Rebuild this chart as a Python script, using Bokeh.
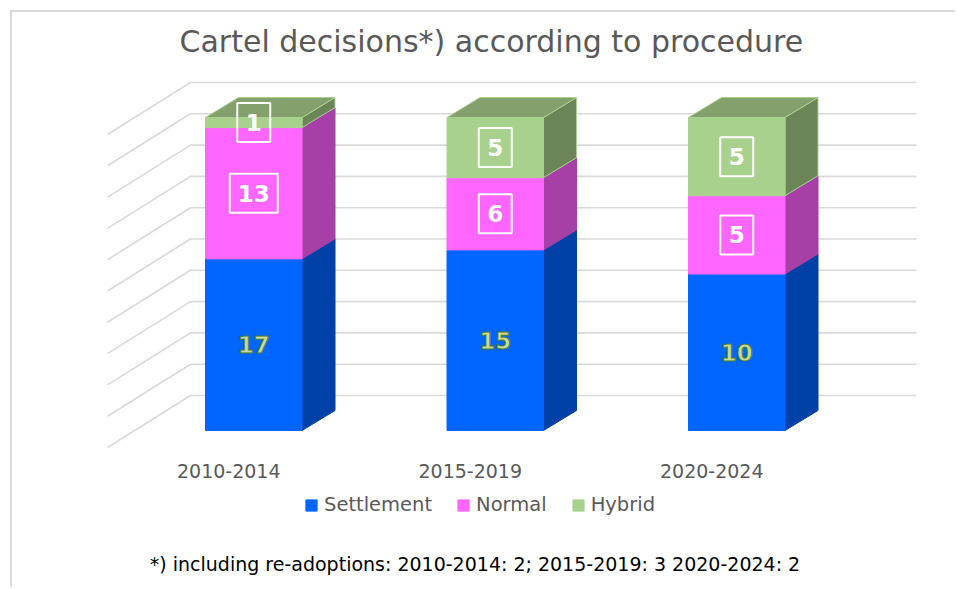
from bokeh.plotting import figure
from bokeh.layouts import column
from bokeh.embed import file_html
from bokeh.resources import INLINE
from bokeh.core.properties import value
from bokeh.models import (ColumnDataSource, Range1d, LinearAxis, FixedTicker,
                          Legend, LegendItem, Title, Label)

categories = ["2010-2014", "2015-2019", "2020-2024"]
settlement = [17, 15, 10]
normal = [13, 6, 5]
hybrid = [1, 5, 5]
series_names = ["Settlement", "Normal", "Hybrid"]
grid_levels = [0, 10, 20, 30, 40, 50, 60, 70, 80, 90, 100]
title_text = "Cartel decisions*) according to procedure"
note_text = "*) including re-adoptions: 2010-2014: 2; 2015-2019: 3 2020-2024: 2"

FONT = "DejaVu Sans"
front = ["#0066ff", "#ff66ff", "#a9d18e"]
side = ["#0041a8", "#a640a6", "#6b8559"]
top_col = "#83a06d"

# scale: pixels per unit
PX_X = 241.5
PX_Y = 3.13
# frame position on the page
L, R, T, B = 12, 957, 63, 453
SPLIT = 490   # page y where the legend/note figure starts
PAGE_H = 589
X0_PAGE, Y0_PAGE = 253.25, 430

def x_u(px): return px / PX_X
def y_u(px): return px / PX_Y

BAR_W = x_u(96.5)
BAR_DX, BAR_DY = x_u(33), y_u(20)
WALL_BACK_L = x_u(190 - X0_PAGE)
WALL_FRONT_L = x_u(107 - X0_PAGE)
WALL_R = x_u(916 - X0_PAGE)
WALL_BACK_DY = y_u(35)
WALL_FRONT_DY = y_u(-17)

p = figure(width=R - L, height=SPLIT - L,
           toolbar_location=None, output_backend="svg",
           x_range=Range1d(x_u(L - X0_PAGE), x_u(R - X0_PAGE)),
           y_range=Range1d(y_u(Y0_PAGE - B), y_u(Y0_PAGE - T)),
           x_axis_location=None, y_axis_location=None,
           min_border=0, min_border_left=0, min_border_right=0,
           min_border_top=T - L, min_border_bottom=SPLIT - B,
           margin=(10, 0, 0, 10), outline_line_color=None,
           styles={"border-top": "2px solid #d9d9d9", "border-left": "2px solid #d9d9d9"})
p.grid.visible = False

# title
p.title = Title(text=title_text, align="left", offset=167, text_font=FONT, text_font_size="30px",
                text_font_style="normal", text_color="#595959", standoff=10)

# walls
gx = [[WALL_FRONT_L, WALL_BACK_L, WALL_R] for _ in grid_levels]
gy = [[g + WALL_FRONT_DY, g + WALL_BACK_DY, g + WALL_BACK_DY] for g in grid_levels]
p.multi_line(gx, gy, line_color="#d9d9d9", line_width=1.6)

# bars
totals = [a + b + c for a, b, c in zip(settlement, normal, hybrid)]
xc = list(range(len(categories)))
lefts = [c - BAR_W / 2 for c in xc]
rights = [c + BAR_W / 2 for c in xc]
cum = [0.0] * len(xc)
labels_x, labels_y, labels_t, labels_bar = [], [], [], []
for i, vals in enumerate([settlement, normal, hybrid]):
    bot = cum[:]
    topv = [b + v / t * 100 for b, v, t in zip(bot, vals, totals)]
    cum = topv
    xs = [[r, r + BAR_DX, r + BAR_DX, r] for r in rights]
    ys = [[b, b + BAR_DY, tp + BAR_DY, tp] for b, tp in zip(bot, topv)]
    edge = front[2] if i == 2 else side[i]
    p.patches(xs, ys, fill_color=side[i], line_color=edge, line_width=1)
    src = ColumnDataSource(dict(left=lefts, right=rights, bottom=bot, top=topv))
    p.quad(left="left", right="right", bottom="bottom", top="top", source=src,
           fill_color=front[i], line_color=front[i], line_width=1)
    for c, b, tp, v in zip(xc, bot, topv, vals):
        labels_x.append(c)
        labels_y.append((b + tp) / 2)
        labels_t.append(str(v))
        labels_bar.append(i)

# top faces
xs = [[l, l + BAR_DX, r + BAR_DX, r] for l, r in zip(lefts, rights)]
ys = [[100, 100 + BAR_DY, 100 + BAR_DY, 100] for _ in xc]
p.patches(xs, ys, fill_color=top_col, line_color=front[2], line_width=1)

# data labels
boxed = [k for k, b in enumerate(labels_bar) if b > 0]
plain = [k for k, b in enumerate(labels_bar) if b == 0]
p.rect([labels_x[k] for k in boxed], [labels_y[k] for k in boxed],
       width=[33 + 15 * (len(labels_t[k]) - 1) for k in boxed], height=39,
       width_units="screen", height_units="screen",
       fill_color=None, line_color="white", line_width=2)
p.text([labels_x[k] for k in boxed], [labels_y[k] for k in boxed], [labels_t[k] for k in boxed],
       text_font=value(FONT), text_font_size="23px", text_font_style="bold", text_color="white",
       text_align="center", text_baseline="middle")
p.text([labels_x[k] for k in plain], [labels_y[k] for k in plain], [labels_t[k] for k in plain],
       text_font=value(FONT), text_font_size="23px", text_font_style="bold", text_color="#c8dc9a",
       outline_color="#4f7a2a", text_align="center", text_baseline="middle")

# category axis, centred on the floor of the chart
SHIFT = x_u(25)
p.extra_x_ranges["axis"] = Range1d(p.x_range.start + SHIFT, p.x_range.end + SHIFT)
ax = LinearAxis(x_range_name="axis", ticker=FixedTicker(ticks=xc),
                major_label_overrides={c: n for c, n in zip(xc, categories)},
                axis_line_color=None, major_tick_line_color=None, minor_tick_line_color=None,
                major_label_text_font=FONT, major_label_text_font_size="19px",
                major_label_text_color="#595959", major_label_standoff=4)
p.add_layout(ax, "below")

# lower strip: legend and note; the key glyphs lie outside the strip's range,
# only their legend swatches show
q = figure(width=R - L, height=PAGE_H - SPLIT, toolbar_location=None, output_backend="svg",
           x_range=Range1d(0, R - L), y_range=Range1d(0, PAGE_H - SPLIT),
           x_axis_location=None, y_axis_location=None, min_border=0,
           min_border_left=0, min_border_right=0, min_border_top=0, min_border_bottom=0,
           margin=(0, 0, 0, 10), outline_line_color=None,
           styles={"border-left": "2px solid #d9d9d9"})
q.grid.visible = False
keys = [q.quad(left=[-20], right=[-10], bottom=[0], top=[10], fill_color=c, line_color=c) for c in front]
legend = Legend(items=[LegendItem(label=n, renderers=[r]) for n, r in zip(series_names, keys)],
                orientation="horizontal", location=(292, 71), border_line_color=None,
                background_fill_alpha=0, glyph_width=14, glyph_height=14, spacing=24,
                label_text_font=FONT, label_text_font_size="19.5px", label_text_color="#595959",
                label_standoff=6, margin=0, padding=2)
q.add_layout(legend)
q.add_layout(Label(text=note_text, x=462.5, y=24, x_units="screen", y_units="screen",
                   text_align="center", text_baseline="middle", text_font=FONT,
                   text_font_size="19px", text_color="#000000"))

open("out.html", "w").write(file_html(column(p, q, spacing=0), INLINE))
